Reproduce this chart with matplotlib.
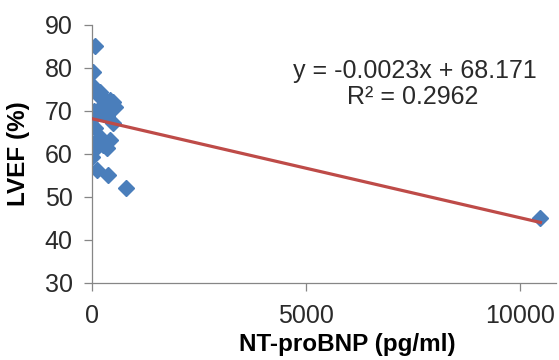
import numpy as np
import matplotlib.pyplot as plt

plt.rcParams['font.family'] = ['Liberation Sans', 'DejaVu Sans']

# NT-proBNP (pg/ml) vs LVEF (%)
nt_probnp = [70, 10, 0, 60, 190, 110, 250, 420, 490, 530, 30, 0, 340, 490,
             150, 110, 420, 190, 260, 30, 340, 0, 110, 370, 800, 10480,
             200, 300, 60]
lvef = [85, 79, 76, 75, 74.5, 74, 73, 72.6, 72, 71, 70, 68, 68.7, 67.2,
        69.5, 62.6, 63.3, 64, 62, 61, 61.4, 59.2, 56.3, 55.1, 52.1, 45.1,
        71, 70, 66]

slope = -0.0023
intercept = 68.171
r2 = 0.2962

fig = plt.figure(figsize=(5.59, 3.6), dpi=100)
ax = fig.add_axes([0.165, 0.214, 0.83, 0.717])

x_line = np.array([0, max(nt_probnp)])
ax.plot(x_line, slope * x_line + intercept, color='#BE4B48', lw=2.3, zorder=3)
ax.plot(nt_probnp, lvef, 'D', color='#4A7EBB', markersize=8, mec='#4A7EBB', zorder=2)

ax.set_xlim(0, 10850)
ax.set_ylim(30, 90)
ax.set_xticks([0, 5000, 10000])
ax.set_yticks(range(30, 91, 10))

for s in ['top', 'right']:
    ax.spines[s].set_visible(False)
for s in ['left', 'bottom']:
    ax.spines[s].set_color('#868686')
    ax.spines[s].set_linewidth(0.9)
ax.tick_params(direction='out', length=6, width=0.9, color='#868686',
               labelsize=18, labelcolor='#2a2a2a')
ax.tick_params(axis='y', pad=8)
ax.tick_params(axis='x', pad=9)

ax.set_xlabel('NT-proBNP (pg/ml)', fontsize=17.5, fontweight='bold', va='center')
ax.set_ylabel('LVEF (%)', fontsize=17.5, fontweight='bold', va='center')
ax.xaxis.set_label_coords(0.55, -0.24)
ax.yaxis.set_label_coords(-0.159, 0.5)

fig.text(415 / 559, 1 - 71 / 360, f'y = {slope}x + {intercept}', fontsize=18,
         ha='center', va='center', color='#2a2a2a')
fig.text(413 / 559, 1 - 97 / 360, f'R² = {r2}', fontsize=18,
         ha='center', va='center', color='#2a2a2a')

fig.savefig('out.png', dpi=100)
